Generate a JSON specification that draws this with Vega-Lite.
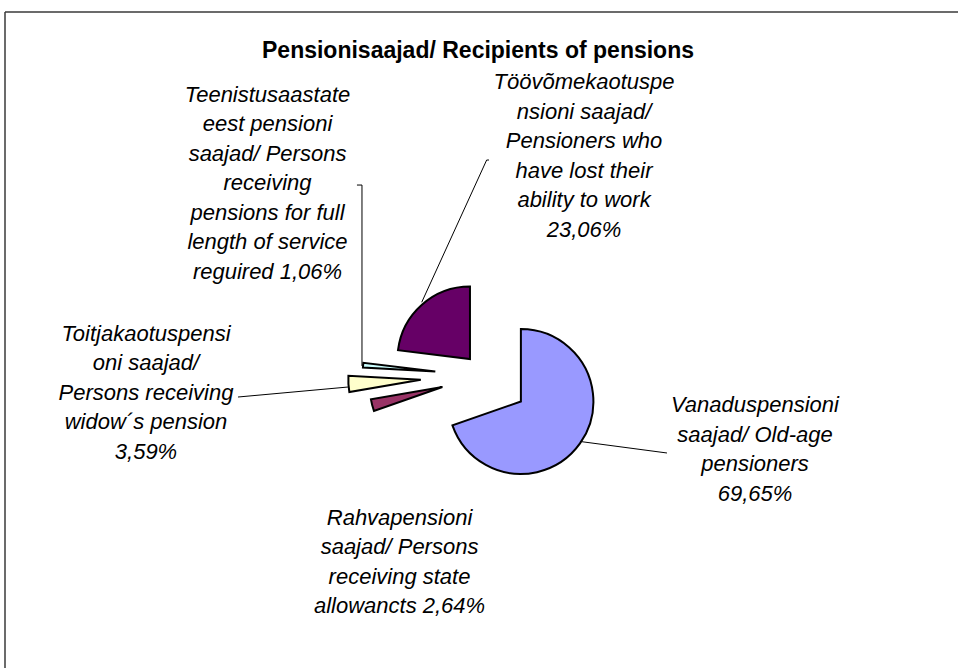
{
  "$schema": "https://vega.github.io/schema/vega-lite/v6.json",
  "width": 953,
  "height": 656,
  "autosize": {"type": "none"},
  "padding": {"left": 5, "top": 12, "right": 0, "bottom": 0},
  "background": "white",
  "config": {"view": {"stroke": null}},
  "title": {
    "text": "Pensionisaajad/ Recipients of pensions",
    "font": "Liberation Sans",
    "fontSize": 23,
    "fontWeight": "bold",
    "color": "#000000",
    "anchor": "start",
    "frame": "group",
    "baseline": "alphabetic",
    "offset": 0,
    "dy": 70,
    "dx": 257
  },
  "datasets": {
    "pensions": [
      {"id": "V", "group": "Vanaduspensioni saajad/ Old-age pensioners", "share": 69.65, "label": "Vanaduspensioni\nsaajad/ Old-age\npensioners\n69,65%"},
      {"id": "R", "group": "Rahvapensioni saajad/ Persons receiving state allowancts", "share": 2.64, "label": "Rahvapensioni\nsaajad/ Persons\nreceiving state\nallowancts 2,64%"},
      {"id": "Tj", "group": "Toitjakaotuspensioni saajad/ Persons receiving widow´s pension", "share": 3.59, "label": "Toitjakaotuspensi\noni saajad/\nPersons receiving\nwidow´s pension\n3,59%"},
      {"id": "Te", "group": "Teenistusaastate eest pensioni saajad/ Persons receiving pensions for full length of service reguired", "share": 1.06, "label": "Teenistusaastate\neest pensioni\nsaajad/ Persons\nreceiving\npensions for full\nlength of service\nreguired 1,06%"},
      {"id": "To", "group": "Töövõmekaotuspensioni saajad/ Pensioners who have lost their ability to work", "share": 23.06, "label": "Töövõmekaotuspe\nnsioni saajad/\nPensioners who\nhave lost their\nability to work\n23,06%"}
    ]
  },
  "data": {"name": "pensions"},
  "layer": [
    {
      "transform": [
        {"window": [{"op": "sum", "field": "share", "as": "cum"}], "frame": [null, 0]},
        {"calculate": "datum.cum - datum.share", "as": "start"},
        {"calculate": "(datum.start + datum.share / 2) / 100 * 2 * PI", "as": "mid"},
        {"calculate": "datum.id == 'V' ? 0.607 : datum.id == 'R' ? 0.607 : datum.id == 'Tj' ? 0.887 : datum.id == 'Te' ? 0.688 : 0.313", "as": "explode"},
        {"calculate": "datum.explode * sin(datum.mid)", "as": "ex"},
        {"calculate": "datum.explode * cos(datum.mid)", "as": "ey"}
      ],
      "mark": {"type": "arc", "radius": 72.5, "stroke": "#000000", "strokeWidth": 2},
      "encoding": {
        "theta": {"field": "start", "type": "quantitative", "stack": null, "scale": {"domain": [0, 100]}},
        "theta2": {"field": "cum"},
        "x": {"field": "ex", "type": "quantitative", "axis": null, "scale": {"domain": [-6.6207, 6.5241], "nice": false, "zero": false}},
        "y": {"field": "ey", "type": "quantitative", "axis": null, "scale": {"domain": [-4.0276, 5.0207], "nice": false, "zero": false}},
        "color": {
          "field": "id",
          "type": "nominal",
          "legend": null,
          "scale": {"domain": ["V", "R", "Tj", "Te", "To"], "range": ["#9999FF", "#993366", "#FFFFCC", "#CCFFFF", "#660066"]}
        }
      }
    },
    {
      "transform": [
        {"calculate": "datum.id == 'V' ? 3.724 : datum.id == 'R' ? -1.179 : datum.id == 'Tj' ? -4.676 : datum.id == 'Te' ? -3.0 : 1.366", "as": "lx"},
        {"calculate": "datum.id == 'V' ? -0.497 : datum.id == 'R' ? -2.055 : datum.id == 'Tj' ? 0.483 : datum.id == 'Te' ? 3.786 : 3.952", "as": "ly"}
      ],
      "mark": {"type": "text", "align": "center", "baseline": "alphabetic", "lineBreak": "\n", "lineHeight": 29.5, "font": "Liberation Sans", "fontSize": 22, "fontStyle": "italic", "color": "#000000"},
      "encoding": {
        "x": {"field": "lx", "type": "quantitative"},
        "y": {"field": "ly", "type": "quantitative"},
        "text": {"field": "label"}
      }
    },
    {
      "data": {"values": [{}]},
      "mark": {"type": "rule", "color": "#000000", "strokeWidth": 1},
      "encoding": {"x": {"datum": 0.055}, "y": {"datum": 2.979}, "x2": {"datum": 0.023}, "y2": {"datum": 2.979}}
    },
    {
      "data": {"values": [{}]},
      "mark": {"type": "rule", "color": "#000000", "strokeWidth": 1},
      "encoding": {"x": {"datum": 0.023}, "y": {"datum": 2.979}, "x2": {"datum": -0.873}, "y2": {"datum": 1.017}}
    },
    {
      "data": {"values": [{}]},
      "mark": {"type": "rule", "color": "#000000", "strokeWidth": 1},
      "encoding": {"x": {"datum": -1.766}, "y": {"datum": 2.634}, "x2": {"datum": -1.697}, "y2": {"datum": 2.634}}
    },
    {
      "data": {"values": [{}]},
      "mark": {"type": "rule", "color": "#000000", "strokeWidth": 1},
      "encoding": {"x": {"datum": -1.697}, "y": {"datum": 2.634}, "x2": {"datum": -1.697}, "y2": {"datum": 0.138}}
    },
    {
      "data": {"values": [{}]},
      "mark": {"type": "rule", "color": "#000000", "strokeWidth": 1},
      "encoding": {"x": {"datum": -3.407}, "y": {"datum": -0.29}, "x2": {"datum": -1.89}, "y2": {"datum": -0.152}}
    },
    {
      "data": {"values": [{}]},
      "mark": {"type": "rule", "color": "#000000", "strokeWidth": 1},
      "encoding": {"x": {"datum": 1.31}, "y": {"datum": -0.903}, "x2": {"datum": 2.51}, "y2": {"datum": -1.062}}
    },
    {
      "data": {"values": [{}]},
      "mark": {"type": "rule", "color": "#3a3a3a", "strokeWidth": 1.5},
      "encoding": {"x": {"datum": -6.6207}, "y": {"datum": -4.0276}, "x2": {"datum": -6.6207}, "y2": {"datum": 5.0207}}
    },
    {
      "data": {"values": [{}]},
      "mark": {"type": "rule", "color": "#3a3a3a", "strokeWidth": 1.5},
      "encoding": {"x": {"datum": -6.6207}, "y": {"datum": 5.0207}, "x2": {"datum": 6.5241}, "y2": {"datum": 5.0207}}
    }
  ]
}
